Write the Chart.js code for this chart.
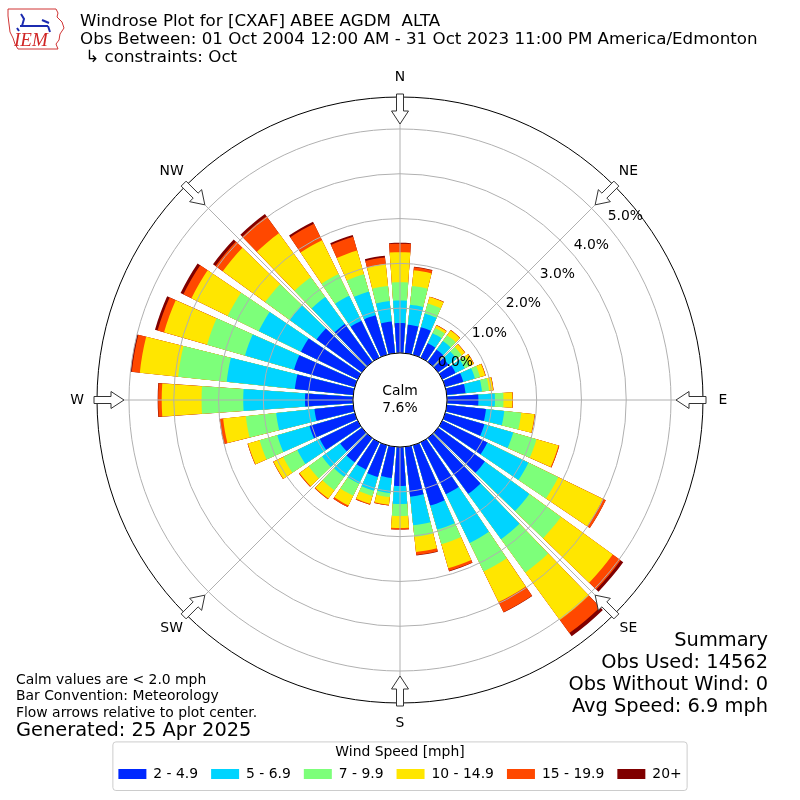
<!DOCTYPE html>
<html>
<head>
<meta charset="utf-8">
<title>Windrose CXAF</title>
<script src="https://cdn.jsdelivr.net/npm/chart.js@4.4.0/dist/chart.umd.min.js"></script>
<style>
  html, body { margin: 0; padding: 0; background: #fff; }
  #wrap { position: relative; width: 800px; height: 800px; font-family: 'DejaVu Sans', sans-serif; color: #000; }
  #chartBox { position: absolute; left: 0; top: 0; width: 800px; height: 800px; }
  .txt { position: absolute; white-space: pre; z-index: 2; }
  #title { left: 80px; top: 11px; font-size: 16.7px; line-height: 18px; }
  #notes { left: 16px; top: 670.5px; font-size: 13.9px; line-height: 16.5px; }
  #generated { left: 16px; top: 719px; font-size: 19.4px; line-height: 22px; }
  #summary { right: 32px; top: 628.5px; font-size: 19.4px; line-height: 22px; text-align: right; }
  #logo { position: absolute; left: 5px; top: 5px; z-index: 2; }
</style>
</head>
<body>
<div id="wrap">
  <div id="chartBox"><canvas id="rose"></canvas></div>
  <svg id="logo" width="62" height="48" viewBox="0 0 62 48">
    <path d="M3,4 L51,4 L53,8 L52,12 L57,17 L59,23 L55,29 L54,35 L51,39 L53,44 L13,44 L10,39 L8,33 L5,27 L4,19 L3,11 Z" fill="none" stroke="#d03535" stroke-width="1"/>
    <path d="M15,21 L43,21" stroke="#1c2bb0" stroke-width="2"/>
    <path d="M16,9 L19,14 L17,21 M37,15 L44,18 M43,21 L45,27 M12,23 L14,26" stroke="#1c2bb0" stroke-width="2" fill="none"/>
    <text x="9" y="41" font-family="Liberation Serif" font-style="italic" font-size="19" fill="#d02525">IEM</text>
  </svg>
  <div id="title" class="txt">Windrose Plot for [CXAF] ABEE AGDM  ALTA
Obs Between: 01 Oct 2004 12:00 AM - 31 Oct 2023 11:00 PM America/Edmonton
 ↳ constraints: Oct</div>
  <div id="notes" class="txt">Calm values are &lt; 2.0 mph
Bar Convention: Meteorology
Flow arrows relative to plot center.</div>
  <div id="generated" class="txt">Generated: 25 Apr 2025</div>
  <div id="summary" class="txt">Summary
Obs Used: 14562
Obs Without Wind: 0
Avg Speed: 6.9 mph</div>
</div>
<script>
// direction of each bar, degrees clockwise from north
const DIRECTIONS = [0, 10, 20, 30, 40, 50, 60, 70, 80, 90, 100, 110, 120, 130, 140, 150, 160, 170,
                    180, 190, 200, 210, 220, 230, 240, 250, 260, 270, 280, 290, 300, 310, 320, 330, 340, 350];
const SPEED_BINS = ['2 - 4.9', '5 - 6.9', '7 - 9.9', '10 - 14.9', '15 - 19.9', '20+'];

// percent of observations per direction, one array per speed bin
const BIN_2_5   = [0.67,0.64,0.64,0.36,0.34,0.29,0.33,0.42,0.42,0.70,0.88,0.91,1.12,1.29,1.54,1.29,1.40,1.12,
                   0.87,0.70,0.74,0.68,0.67,0.60,0.94,1.05,0.87,1.07,1.31,1.41,1.41,1.25,1.05,0.92,0.92,0.71];
const BIN_5_7   = [0.50,0.45,0.32,0.25,0.24,0.22,0.23,0.27,0.37,0.37,0.41,0.67,1.02,1.23,1.25,1.21,0.56,0.64,
                   0.40,0.34,0.32,0.35,0.40,0.50,0.56,0.75,0.86,1.38,1.53,1.14,1.05,0.74,0.74,0.62,0.55,0.46];
const BIN_7_10  = [0.41,0.42,0.23,0.13,0.16,0.14,0.13,0.12,0.16,0.19,0.38,0.54,0.74,0.87,0.92,0.71,0.34,0.26,
                   0.27,0.09,0.12,0.30,0.37,0.37,0.35,0.41,0.68,0.93,1.09,0.88,0.77,0.68,0.55,0.54,0.40,0.34];
const BIN_10_15 = [0.67,0.35,0.15,0.06,0.13,0.09,0.09,0.12,0.09,0.20,0.30,0.51,1.11,1.43,1.31,0.76,0.56,0.34,
                   0.27,0.17,0.18,0.24,0.23,0.25,0.24,0.27,0.51,0.89,0.86,1.00,0.90,1.17,1.21,0.84,0.55,0.49];
const BIN_15_20 = [0.19,0.07,0.01,0.01,0.01,0.01,0.01,0.01,0.01,0.01,0.01,0.02,0.07,0.22,0.36,0.25,0.06,0.07,
                   0.03,0.02,0.02,0.04,0.02,0.02,0.01,0.01,0.08,0.08,0.18,0.15,0.20,0.20,0.47,0.41,0.32,0.15];
const BIN_20P   = [0.02,0.01,0,0,0,0,0,0,0,0,0,0,0,0.07,0.09,0.01,0.01,0.01,
                   0,0,0,0,0,0,0,0,0,0.01,0.03,0.06,0.07,0.07,0.06,0.05,0.04,0.04];

const R_TICKS = [0, 1, 2, 3, 4, 5];
const COMPASS = ['N', 'NE', 'E', 'SE', 'S', 'SW', 'W', 'NW'];
const CALM_PCT = 7.6;

const BIN_COLORS = ['#0028ff', '#00d4ff', '#7dff7a', '#ffe600', '#ff4800', '#800000'];
const R_MIN = -1.05;   // leaves the calm hole in the middle
const R_MAX = 5.714;
const BAR_DEG = 8;
const GAP_DEG = 10 - BAR_DEG;
const FONT_PX = 13.9;

// polar slices start at north, so the north bar is split in two halves
function spread(vals) {
  const out = [vals[0], 0];
  for (let i = 1; i < vals.length; i++) out.push(vals[i], 0);
  out.push(vals[0]);
  return out;
}
const lastIdx = DIRECTIONS.length * 2;
function isGap(i) { return i % 2 === 1; }
function sliceAngle(i) {
  if (i === 0 || i === lastIdx) return BAR_DEG / 2;
  return isGap(i) ? GAP_DEG : BAR_DEG;
}

const running = DIRECTIONS.map(() => 0);
const datasets = [BIN_2_5, BIN_5_7, BIN_7_10, BIN_10_15, BIN_15_20, BIN_20P].map((vals, k) => {
  const cum = vals.map((v, i) => (running[i] += v));
  return {
    label: SPEED_BINS[k],
    data: spread(cum),
    backgroundColor: c => isGap(c.dataIndex) ? 'rgba(0,0,0,0)' : BIN_COLORS[k],
    borderWidth: 0,
    angle: c => sliceAngle(c.dataIndex)
  };
});

function drawArrow(ctx, cx, cy, s, c, rTail, rTip) {
  const len = rTail - rTip, head = 13, shaft = 3.5, wing = 8.5;
  const ux = -s, uy = -c, px = -c, py = s;
  const tx = cx + s * rTail, ty = cy + c * rTail;
  const pts = [[0, -shaft], [len - head, -shaft], [len - head, -wing], [len, 0],
               [len - head, wing], [len - head, shaft], [0, shaft]];
  ctx.beginPath();
  pts.forEach(([t, w], i) => {
    const x = tx + t * ux + w * px, y = ty + t * uy + w * py;
    if (i === 0) ctx.moveTo(x, y); else ctx.lineTo(x, y);
  });
  ctx.closePath();
  ctx.fillStyle = '#fff';
  ctx.fill();
  ctx.strokeStyle = '#333';
  ctx.lineWidth = 1;
  ctx.stroke();
}

const decor = {
  id: 'decor',
  afterDraw(chart) {
    const ctx = chart.ctx;
    const sc = chart.scales.r;
    const cx = sc.xCenter, cy = sc.yCenter;
    const r0 = sc.getDistanceFromCenterForValue(0);
    const R = sc.drawingArea;
    ctx.save();
    // calm circle
    ctx.beginPath();
    ctx.arc(cx, cy, r0, 0, Math.PI * 2);
    ctx.fillStyle = '#fff';
    ctx.fill();
    ctx.strokeStyle = '#000';
    ctx.lineWidth = 1;
    ctx.stroke();
    ctx.fillStyle = '#000';
    ctx.font = FONT_PX + 'px "DejaVu Sans"';
    ctx.textAlign = 'center';
    ctx.textBaseline = 'middle';
    ctx.fillText('Calm', cx, cy - 9);
    ctx.fillText(CALM_PCT.toFixed(1) + '%', cx, cy + 8);
    // radial tick labels
    const a = 49.4 * Math.PI / 180;
    R_TICKS.forEach(v => {
      const d = sc.getDistanceFromCenterForValue(v);
      ctx.fillText(v.toFixed(1) + '%', cx + d * Math.sin(a) + 19.6, cy - d * Math.cos(a) - 7.3);
    });
    // compass arrows and labels
    COMPASS.forEach((lab, i) => {
      const ang = i * Math.PI / 4;
      const s = Math.sin(ang), c = -Math.cos(ang);
      drawArrow(ctx, cx, cy, s, c, R + 3, R - 27);
      ctx.fillStyle = '#000';
      ctx.fillText(lab, cx + s * (R + 20), cy + c * (R + 20));
    });
    // legend frame
    const lg = chart.legend;
    const hb = lg.legendHitBoxes;
    const last = hb[hb.length - 1];
    const left = hb[0].left - 5.5, right = last.left + last.width + 5.5;
    const top = lg.top + 38.5, bottom = lg.bottom - 0.5;
    ctx.beginPath();
    ctx.roundRect(left, top, right - left, bottom - top, 3);
    ctx.strokeStyle = '#cccccc';
    ctx.stroke();
    ctx.restore();
  }
};

Chart.defaults.font.family = "'DejaVu Sans', sans-serif";
Chart.defaults.font.size = FONT_PX;
Chart.defaults.color = '#000';

new Chart(document.getElementById('rose'), {
  type: 'polarArea',
  data: { labels: COMPASS, datasets: datasets },
  options: {
    responsive: true,
    maintainAspectRatio: false,
    animation: false,
    events: [],
    layout: { padding: { top: 97, bottom: 9, left: 0, right: 0 } },
    scales: {
      r: {
        min: R_MIN,
        max: R_MAX,
        startAngle: 0,
        afterBuildTicks: axis => { axis.ticks = R_TICKS.concat([R_MAX]).map(v => ({ value: v })); },
        ticks: { display: false },
        pointLabels: { display: false },
        angleLines: { display: true, color: '#b0b0b0', lineWidth: 1 },
        grid: {
          circular: true,
          z: 1,
          lineWidth: 1,
          color: c => (c.tick && c.tick.value === R_MAX) ? '#000' : '#b0b0b0'
        }
      }
    },
    plugins: {
      tooltip: { enabled: false },
      legend: {
        position: 'bottom',
        onClick: null,
        title: {
          display: true,
          text: 'Wind Speed [mph]',
          font: { size: FONT_PX },
          padding: { top: 42, bottom: -8 }
        },
        labels: {
          boxWidth: 28,
          boxHeight: 10,
          padding: 13,
          font: { size: FONT_PX },
          generateLabels: chart => chart.data.datasets.map((ds, i) => ({
            text: ds.label,
            fillStyle: BIN_COLORS[i],
            strokeStyle: BIN_COLORS[i],
            lineWidth: 0,
            hidden: false,
            datasetIndex: i
          }))
        }
      }
    }
  },
  plugins: [decor]
});
</script>
</body>
</html>
